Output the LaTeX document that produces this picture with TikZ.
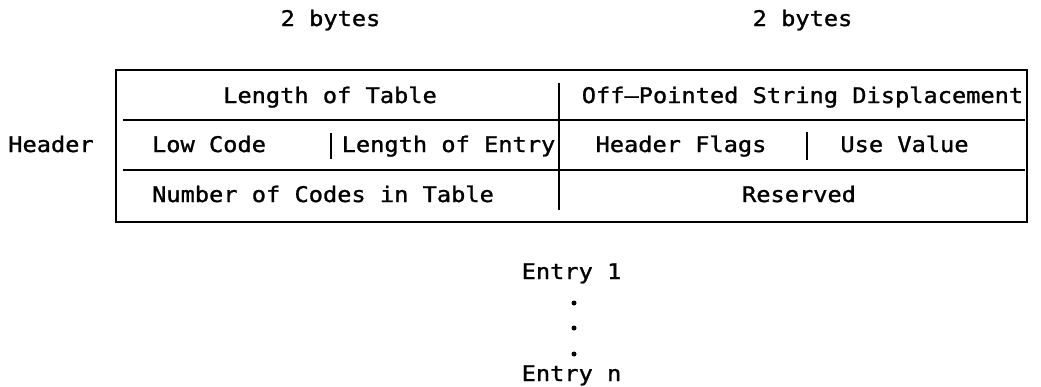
\documentclass[tikz,border=0pt]{standalone}
\usepackage{fontspec}
\newfontfamily\typefont[FakeStretch=1.1,FakeBold=1.2]{DejaVu Sans Mono}
\begin{document}
\begin{tikzpicture}[x=1pt,y=-1pt,
  lbl/.style={anchor=base,inner sep=0pt,font=\typefont\fontsize{21.5}{24}\selectfont},
  rule/.style={line width=1.8pt,line cap=butt},
  bar/.style={line width=1.6pt},
  dotmark/.style={circle,fill=black,inner sep=0pt,minimum size=5pt}]
\useasboundingbox[fill=white] (0,0) rectangle (1041,386);
% byte labels
\node[lbl] (b1) at (330.5,26) {2 bytes};
\node[lbl] (b2) at (802.5,26) {2 bytes};
% header label
\node[lbl] (hdr) at (51,152) {Header};
% table frame
\draw[rule] (116,70) rectangle (1027,222);
\draw[rule] (123,120) -- (1025,120);
\draw[rule] (123,170) -- (1025,170);
\draw[rule] (559,83) -- (559,210);
\draw[bar] (331,133) -- (331,159);
\draw[bar] (807,132) -- (807,160);
% row 1
\node[lbl] (lot) at (330,103) {Length of Table};
\node[lbl] (ops) at (802.5,103) {Off–Pointed String Displacement};
% row 2
\node[lbl] (lc) at (209,152) {Low Code};
\node[lbl] (loe) at (448.5,152) {Length of Entry};
\node[lbl] (hf) at (681,152) {Header Flags};
\node[lbl] (uv) at (904.5,152) {Use Value};
% row 3
\node[lbl] (noc) at (323,202) {Number of Codes in Table};
\node[lbl] (res) at (799,202) {Reserved};
% entries
\node[lbl] (e1) at (571.5,279) {Entry 1};
\node[dotmark] (d1) at (574,303) {};
\node[dotmark] (d2) at (574,328) {};
\node[dotmark] (d3) at (574,354) {};
\node[lbl] (en) at (571.5,381) {Entry n};
\end{tikzpicture}
\end{document}
